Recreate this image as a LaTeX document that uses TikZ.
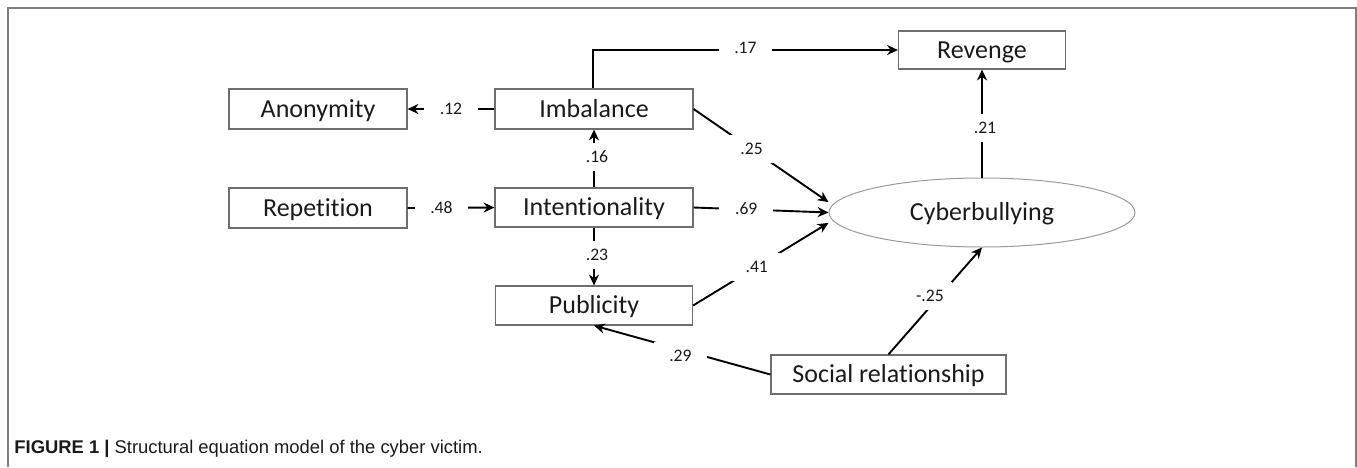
\documentclass[tikz,border=0pt]{standalone}
\usepackage{fontspec}
\newfontfamily\carlito[RawFeature=-liga]{Carlito}
\newfontfamily\capfont{Liberation Sans}
\usetikzlibrary{arrows.meta,shapes.geometric}
\definecolor{boxgray}{HTML}{6E6E6E}
\definecolor{ellgray}{HTML}{9A9A9A}
\definecolor{framegray}{HTML}{7F7F7F}
\definecolor{txt}{HTML}{1A1A1A}
\tikzset{
  box/.style={draw=boxgray, line width=0.6pt, rectangle, inner sep=0pt,
    minimum height=20pt, text=txt, text height=8.4pt, text depth=0pt,
    font=\carlito\fontsize{13}{15}\selectfont},
  ell/.style={draw=ellgray, line width=0.5pt, ellipse, inner sep=0pt,
    minimum width=153pt, minimum height=34.5pt, text=txt,
    text height=8.4pt, text depth=0pt,
    font=\carlito\fontsize{13}{15}\selectfont},
  conn/.style={-{Stealth[length=5.4pt,width=5pt]}, line width=0.95pt, black},
  lbl/.style={fill=white, text=txt, font=\carlito\fontsize{8.8}{10}\selectfont,
    text height=5.5pt, text depth=0pt, inner xsep=7.8pt, inner ysep=4.3pt}
}
\begin{document}
\begin{tikzpicture}[x=0.5pt,y=-0.5pt]
\useasboundingbox (0,0) rectangle (1357,467);
% frame
\draw[framegray, line width=0.8pt] (8,467) -- (8,8) -- (1356,8) -- (1356,467);
% nodes
\node[box, minimum width=89pt] (ano) at (318,109) {Anonymity};
\node[box, minimum width=89pt] (rep) at (318,208) {Repetition};
\node[box, minimum width=99pt] (imb) at (594,109) {Imbalance};
\node[box, minimum width=99pt, minimum height=19.5pt] (int) at (594,207.5) {Intentionality};
\node[box, minimum width=98.5pt, minimum height=19.5pt] (pub) at (594,305.5) {Publicity};
\node[box, minimum width=83.5pt, minimum height=19pt] (rev) at (982,50) {Revenge};
\node[box, minimum width=117.5pt, minimum height=19.5pt] (soc) at (888.5,374.5) {Social relationship};
\node[ell] (cb) at (982,212.5) {Cyberbullying};
% connectors
\draw[conn] (imb.west) -- node[lbl, pos=0.5] {.12} (ano.east);
\draw[conn] (rep.east) -- node[lbl, pos=0.39] {.48} (int.west);
\draw[conn] (int.north) -- node[lbl, pos=0.53, xshift=1.5pt] {.16} (imb.south);
\draw[conn] (int.south) -- node[lbl, pos=0.47, xshift=1.5pt] {.23} (pub.north);
\draw[conn] ([xshift=-0.5pt]imb.north) |- node[lbl, pos=0.75, yshift=1pt] {.17} (rev.west);
\draw[conn] (imb.east) -- node[lbl, pos=0.43] {.25} ([yshift=5.2pt]cb.west);
\draw[conn] (int.east) -- node[lbl, pos=0.39] {.69} (cb.west);
\draw[conn] (pub.east) -- node[lbl, pos=0.47] {.41} ([yshift=-5.2pt]cb.west);
\draw[conn] (cb.north) -- node[lbl, pos=0.46, xshift=1.5pt] {.21} (rev.south);
\draw[conn] (soc.north) -- node[lbl, pos=0.55, xshift=-5pt, inner xsep=4pt] {-.25} (cb.south);
\draw[conn] (soc.west) -- node[lbl, pos=0.51, yshift=-3.3pt] {.29} (pub.south);
% caption
\node[anchor=base west, inner sep=0pt, text=txt, font=\capfont\fontsize{9.2}{11}\selectfont] (cap) at (14,453)
  {{\bfseries FIGURE 1 |} Structural equation model of the cyber victim.};
\end{tikzpicture}
\end{document}
